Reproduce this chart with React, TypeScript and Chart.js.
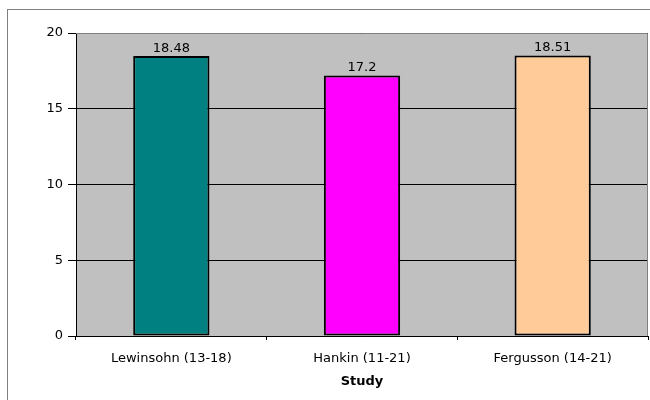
import React, { useEffect, useRef } from "react";
import { Chart, registerables } from "chart.js";

Chart.register(...registerables);

const categories = ["Lewinsohn (13-18)", "Hankin (11-21)", "Fergusson (14-21)"];
const values = [18.48, 17.2, 18.51];
const barColors = ["#008080", "#FF00FF", "#FFCC99"];
const yTicks = [0, 5, 10, 15, 20];
const xTitle = "Study";

const FONT = "'DejaVu Sans', Verdana, sans-serif";

const bgPlugin = {
  id: "bgPlugin",
  beforeDraw(chart: any) {
    const { ctx, chartArea } = chart;
    ctx.save();
    ctx.fillStyle = "#FFFFFF";
    ctx.fillRect(0, 0, chart.width, chart.height);
    ctx.strokeStyle = "#808080";
    ctx.lineWidth = 1;
    ctx.strokeRect(7.5, 9.5, chart.width + 10, chart.height + 10);
    ctx.fillStyle = "#C0C0C0";
    ctx.fillRect(chartArea.left, chartArea.top, chartArea.right - chartArea.left, chartArea.bottom - chartArea.top);
    ctx.restore();
  },
  afterDatasetsDraw(chart: any) {
    const { ctx, chartArea } = chart;
    ctx.save();
    ctx.strokeStyle = "#808080";
    ctx.lineWidth = 1;
    ctx.beginPath();
    ctx.moveTo(chartArea.left, chartArea.top + 0.5);
    ctx.lineTo(chartArea.right - 0.5, chartArea.top + 0.5);
    ctx.lineTo(chartArea.right - 0.5, chartArea.bottom);
    ctx.stroke();
    const meta = chart.getDatasetMeta(0);
    ctx.fillStyle = "#000";
    ctx.font = `13px ${FONT}`;
    ctx.textAlign = "center";
    ctx.textBaseline = "bottom";
    meta.data.forEach((bar: any, i: number) => {
      ctx.fillText(String(values[i]), bar.x, bar.y - 1);
    });
    ctx.restore();
  },
};

export default function App() {
  const ref = useRef<HTMLCanvasElement>(null);
  useEffect(() => {
    const chart = new Chart(ref.current!, {
      type: "bar",
      data: {
        labels: categories,
        datasets: [
          {
            data: values,
            backgroundColor: barColors,
            borderColor: "#000000",
            borderWidth: 2,
            categoryPercentage: 1,
            barPercentage: 0.4,
            borderSkipped: false,
          },
        ],
      },
      options: {
        animation: false,
        responsive: false,
        devicePixelRatio: 1,
        layout: { padding: { top: 33, right: 2, left: 0, bottom: 0 } },
        plugins: { legend: { display: false }, tooltip: { enabled: false } },
        scales: {
          x: {
            offset: true,
            grid: {
              offset: true,
              drawOnChartArea: false,
              drawTicks: true,
              tickLength: 4,
              color: "#000000",
            },
            border: { color: "#000000", width: 1 },
            ticks: {
              color: "#000000",
              font: { family: FONT, size: 13 },
              padding: 11,
              maxRotation: 0,
            },
            title: {
              display: true,
              text: xTitle,
              color: "#000000",
              font: { family: FONT, size: 13, weight: "bold" },
              padding: { top: 4, bottom: 11 },
            },
            afterFit(scale: any) {
              scale.height = 64;
            },
          },
          y: {
            min: 0,
            max: 20,
            afterBuildTicks(scale: any) {
              scale.ticks = yTicks.map((v) => ({ value: v }));
            },
            grid: {
              color: "#000000",
              tickLength: 8,
              drawTicks: true,
            },
            border: { color: "#000000", width: 1 },
            ticks: {
              color: "#000000",
              font: { family: FONT, size: 13 },
              padding: 5,
            },
            afterFit(scale: any) {
              scale.width = 76;
            },
          },
        },
      },
      plugins: [bgPlugin],
    });
    return () => chart.destroy();
  }, []);
  return (
    <div style={{ position: "absolute", left: 0, top: 0, width: 650, height: 400 }}>
      <canvas ref={ref} width={650} height={400} style={{ width: 650, height: 400 }} />
    </div>
  );
}
